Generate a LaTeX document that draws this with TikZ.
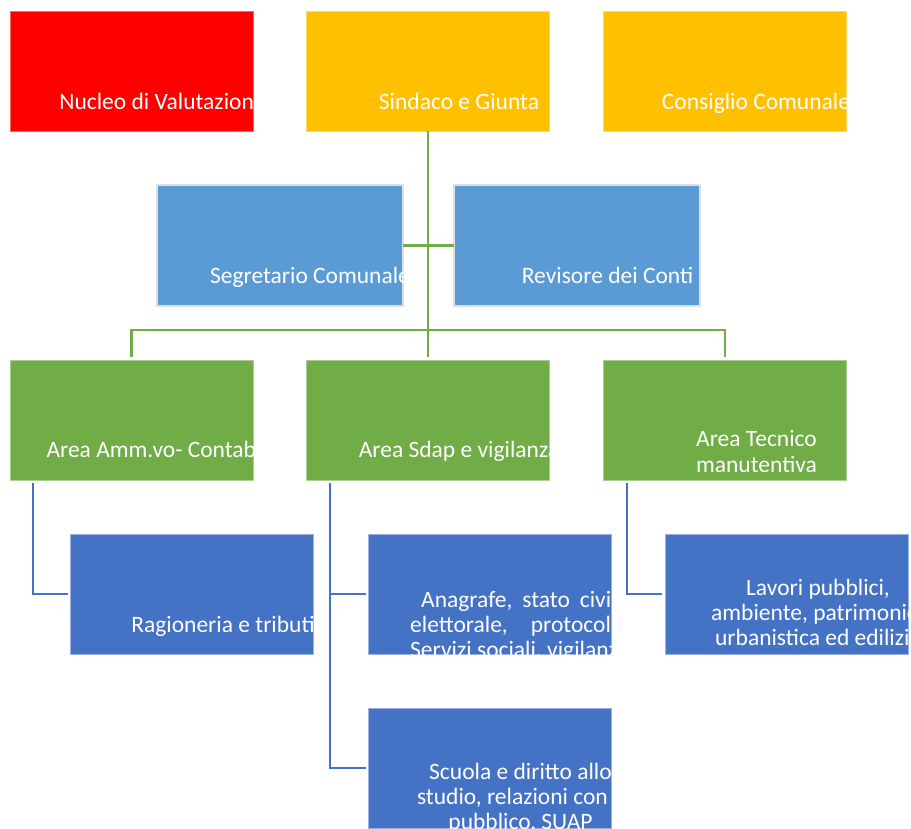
\documentclass[tikz,border=0pt]{standalone}
\usepackage{fontspec}
\setmainfont{Carlito}
\usetikzlibrary{calc}
\definecolor{cred}{HTML}{FF0000}
\definecolor{cgold}{HTML}{FFC000}
\definecolor{clight}{HTML}{5B9BD5}
\definecolor{cgreen}{HTML}{70AD47}
\definecolor{cblue}{HTML}{4472C4}
\newcommand\cliptext[2]{\begin{scope}\clip (#1.south west) rectangle (#1.north east);#2\end{scope}}
\begin{document}
\begin{tikzpicture}[x=1pt,y=-1pt,
  box/.style={rectangle, inner sep=0pt, outer sep=0pt, minimum width=243pt, minimum height=120pt},
  redbox/.style={box, fill=cred, draw=cred!60!white, line width=0.6pt},
  goldbox/.style={box, fill=cgold, draw=cgold!60!white, line width=0.6pt},
  midbox/.style={box, minimum width=246pt, minimum height=121pt, fill=clight, draw=black!12, line width=2pt},
  greenbox/.style={box, fill=cgreen, draw=cgreen!60!white, line width=0.6pt},
  bluebox/.style={box, fill=cblue, draw=cblue!55!white, line width=1pt},
  lbl/.style={text=white, inner sep=0pt, anchor=base, font=\fontsize{23.5}{25}\selectfont},
  lblw/.style={lbl, anchor=base west},
  gline/.style={draw=cgreen, line width=2.5pt},
  bline/.style={draw=cblue, line width=2.3pt}
]
\fill[white] (0,0) rectangle (911,829);
\useasboundingbox (0,0) rectangle (911,829);

% boxes
\node[redbox]  (nucleo)    at (131.5,71) {};
\node[goldbox] (sindaco)   at (428,71)   {};
\node[goldbox] (consiglio) at (725,71)   {};
\node[midbox]  (segretario) at (280,245.5) {};
\node[midbox]  (revisore)   at (576.5,245.5) {};
\node[greenbox] (area1) at (131.5,420) {};
\node[greenbox] (area2) at (428,420) {};
\node[greenbox] (area3) at (725,420) {};
\node[bluebox] (ragioneria) at (192,594) {};
\node[bluebox] (anagrafe)   at (489.5,594) {};
\node[bluebox] (lavori)     at (787,594) {};
\node[bluebox] (scuola)     at (489.5,768) {};

% texts (clipped to their boxes)
\cliptext{nucleo}{\node[lbl] (tnucleo) at ($(nucleo.north)+(31,99)$) {Nucleo di Valutazione};}
\cliptext{sindaco}{\node[lbl] (tsindaco) at ($(sindaco.north)+(31,99)$) {Sindaco e Giunta};}
\cliptext{consiglio}{\node[lbl] (tconsiglio) at ($(consiglio.north)+(31,99)$) {Consiglio Comunale};}
\cliptext{segretario}{\node[lbl] (tsegretario) at ($(segretario.north)+(30,99)$) {Segretario Comunale};}
\cliptext{revisore}{\node[lbl] (trevisore) at ($(revisore.north)+(31,99)$) {Revisore dei Conti};}
\cliptext{area1}{\node[lbl] (tarea1) at ($(area1.north)+(31,97.5)$) {Area Amm.vo- Contabile};}
\cliptext{area2}{\node[lbl] (tarea2) at ($(area2.north)+(31,97.5)$) {Area Sdap e vigilanza};}
\cliptext{area3}{%
  \node[lbl] (tarea3a) at ($(area3.north)+(31.5,86)$) {Area Tecnico};
  \node[lbl] (tarea3b) at ($(area3.north)+(31.5,112)$) {manutentiva};}
\cliptext{ragioneria}{\node[lbl] (tragioneria) at ($(ragioneria.north)+(31,98)$) {Ragioneria e tributi};}
\cliptext{anagrafe}{%
  \node[lblw] (tanagrafea) at (410,607) {\makebox[224pt]{\hspace*{11pt}Anagrafe,\hfill stato\hfill civile,}};
  \node[lblw] (tanagrafeb) at (410,632) {\makebox[224pt]{elettorale,\hfill protocollo,}};
  \node[lblw] (tanagrafec) at (410,657) {Servizi sociali, vigilanza};}
\cliptext{lavori}{%
  \node[lbl] (tlavoria) at ($(lavori.north)+(31,61)$) {Lavori pubblici,};
  \node[lbl] (tlavorib) at ($(lavori.north)+(31,86)$) {ambiente, patrimonio,};
  \node[lbl] (tlavoric) at ($(lavori.north)+(31,111)$) {urbanistica ed edilizia};}
\cliptext{scuola}{%
  \node[lbl] (tscuolaa) at ($(scuola.north)+(31,71)$) {Scuola e diritto allo};
  \node[lbl] (tscuolab) at ($(scuola.north)+(31,96)$) {studio, relazioni con il};
  \node[lbl] (tscuolac) at ($(scuola.north)+(31,121)$) {pubblico, SUAP};}

% green connectors
\coordinate (bus) at (0,330);
\draw[gline, shorten >=3pt] (sindaco.south) -- (sindaco.south |- area2.north);
\draw[gline] (segretario.east) -- (revisore.west);
\draw[gline, shorten >=3pt] (area1.north |- bus) -- (area1.north);
\draw[gline, shorten >=3pt] (area3.north |- bus) -- (area3.north);
\draw[gline] ($(area1.north |- bus)+(-1.25,0)$) -- ($(area3.north |- bus)+(1.25,0)$);

% blue connectors
\coordinate (d1) at ($(area1.south west)+(23,3)$);
\coordinate (d2) at ($(area2.south west)+(23.5,3)$);
\coordinate (d3) at ($(area3.south west)+(23.5,3)$);
\draw[bline, shorten >=3pt] (d1) |- (ragioneria.west);
\draw[bline, shorten >=2.5pt] (d2) |- (scuola.west);
\draw[bline, shorten >=2.5pt] (d2 |- anagrafe.west) -- (anagrafe.west);
\draw[bline, shorten >=3.5pt] (d3) |- (lavori.west);
\end{tikzpicture}
\end{document}
